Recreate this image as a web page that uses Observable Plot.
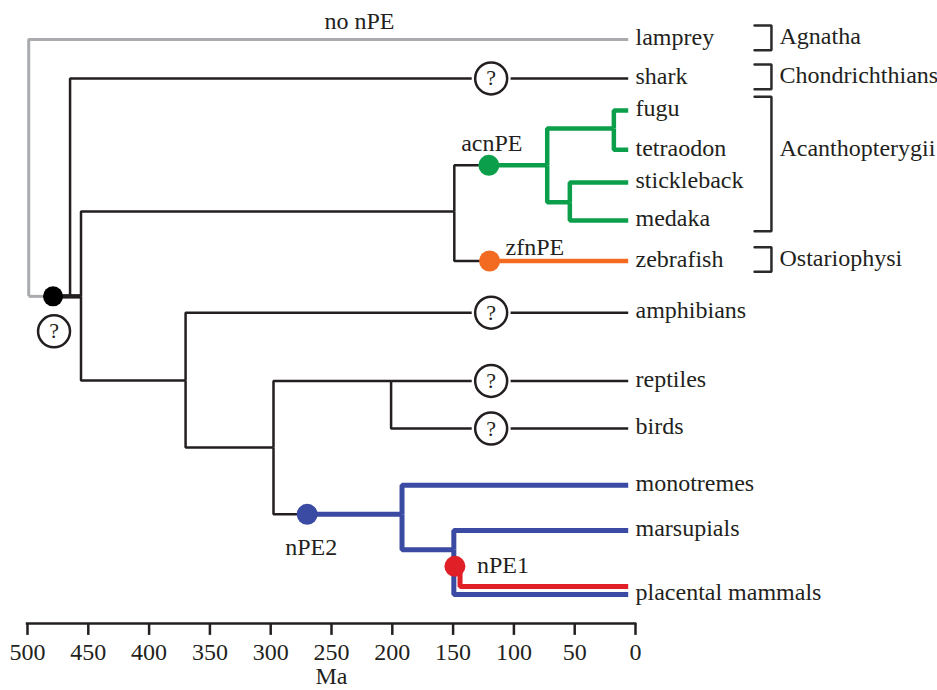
<!DOCTYPE html>
<html>
<head>
<meta charset="utf-8">
<script src="https://cdn.jsdelivr.net/npm/d3@7"></script>
<script src="https://cdn.jsdelivr.net/npm/@observablehq/plot@0.6"></script>
<style>
  html, body { margin: 0; padding: 0; background: #fff; }
  svg text { font-family: "Liberation Serif", "Times New Roman", serif; }
</style>
</head>
<body>
<div id="chart"></div>
<script>
// ---------- DATA ----------
// Tree nodes (parents listed before children). Age in Ma; row = vertical slot (0 = top).
const nodeName = ["root", "gnathostomes", "osteichthyes", "teleosts", "acanthopterygii", "fugu+tetraodon",
  "stickleback+medaka", "tetrapods", "amniotes", "sauropsids", "mammals", "theria",
  "lamprey", "shark", "fugu", "tetraodon", "stickleback", "medaka", "zebrafish",
  "amphibians", "reptiles", "birds", "monotremes", "marsupials", "placental mammals"];
const nodeParent = [null, "root", "gnathostomes", "osteichthyes", "teleosts", "acanthopterygii",
  "acanthopterygii", "osteichthyes", "tetrapods", "amniotes", "amniotes", "mammals",
  "root", "gnathostomes", "fugu+tetraodon", "fugu+tetraodon", "stickleback+medaka", "stickleback+medaka", "teleosts",
  "tetrapods", "sauropsids", "sauropsids", "mammals", "theria", "theria"];
const nodeMa = [499, 465, 456, 149, 72.6, 17.8,
  54, 370, 297.7, 201, 192, 149.4,
  6, 6, 6, 6, 6, 6, 6,
  6, 6, 6, 6, 6, 6];
const nodeRow = [6.47, 6.47, 6.47, 4.33, 3.17, 2.24,
  4.1, 8.59, 10.28, 8.6, 11.96, 12.85,
  0, 0.98, 1.79, 2.78, 3.6, 4.56, 5.58,
  6.88, 8.6, 9.8, 11.23, 12.37, 13.98];

// nPE gain events
const eventLabel  = ["", "acnPE", "zfnPE", "nPE2", "nPE1"];
const eventBranch = ["gnathostomes", "acanthopterygii", "zebrafish", "mammals", "placental mammals"];
const eventState  = ["unknown", "acnPE", "zfnPE", "nPE2", "nPE1"];
const eventMa     = [479, 120.6, 120, 270, 148.5];
const eventRow    = [6.47, 3.17, 5.58, 11.96, 13.27];

// branches with unknown status ("?")
const unknownBranch = ["shark", "amphibians", "reptiles", "birds"];
const unknownMa     = [118.7, 118.7, 118.7, 118.7];

// no nPE annotation
const noLabel = "no nPE";
const noLabelBranch = "lamprey";
const noLabelMa = 227;

// clades
const cladeName  = ["Agnatha", "Chondrichthians", "Acanthopterygii", "Ostariophysi"];
const cladeFirst = ["lamprey", "shark", "fugu", "zebrafish"];
const cladeLast  = ["lamprey", "shark", "medaka", "zebrafish"];

// axis
const tickValues = [500, 450, 400, 350, 300, 250, 200, 150, 100, 50, 0];
const axisTitle = "Ma";

// ---------- STYLE / LAYOUT ----------
const ink = "#231f20";
const serif = "Liberation Serif";
const stateColor = {none: "#a9abae", unknown: "#231f20", acnPE: "#0b9f4b", zfnPE: "#f26b21", nPE2: "#3b4aa3", nPE1: "#e11f27"};
const stateWidth = {none: 3, unknown: 2.5, acnPE: 4.5, zfnPE: 4.5, nPE2: 5, nPE1: 5};
const stateRank = {none: 0, unknown: 1, acnPE: 2, zfnPE: 2, nPE2: 2, nPE1: 3};
const thickEdges = new Set(["gnathostomes", "osteichthyes"]);
const FS = 24;
const axisRow = 14.71;
const bracketArmMa = -97.9, bracketBarMa = -111.8, cladeLabelMa = -118.4;

const idx = new Map(nodeName.map((n, i) => [n, i]));
const N = n => { const i = idx.get(n); return {name: n, ma: nodeMa[i], row: nodeRow[i]}; };
const T = (data, opts) => Plot.text(data, {fontFamily: serif, fontSize: FS, fill: ink, ...opts});

// ---------- BUILD BRANCH RUNS ----------
const endState = new Map([["root", "none"]]);
const runs = [];
for (let i = 1; i < nodeName.length; i++) {
  const c = nodeName[i], p = nodeParent[i];
  const P = N(p), C = N(c);
  const s0 = endState.get(p);
  const e = eventBranch.findIndex((b, k) => b === c && eventState[k] !== "nPE1");
  const s1 = e >= 0 ? eventState[e] : s0;
  endState.set(c, s1);
  const w = st => (thickEdges.has(c) && st === "unknown") ? 4.5 : stateWidth[st];
  const pts = [];
  if (P.row !== C.row) pts.push([P.ma, P.row]);
  pts.push([P.ma, C.row]);
  if (e >= 0) {
    pts.push([eventMa[e], C.row]);
    runs.push({state: s0, width: w(s0), pts});
    runs.push({state: s1, width: w(s1), pts: [[eventMa[e], C.row], [C.ma, C.row]]});
  } else {
    pts.push([C.ma, C.row]);
    runs.push({state: s0, width: w(s0), pts});
  }
}
// nPE1: parallel red lineage on placental mammals
{
  const k = eventState.indexOf("nPE1");
  const Th = N("theria"), L = N("placental mammals");
  const xr = Th.ma - 5.1, yr = L.row - 0.2;
  runs.push({state: "nPE1", width: stateWidth.nPE1, pts: [[xr, eventRow[k]], [xr, yr], [L.ma, yr]]});
}
runs.sort((a, b) => stateRank[a.state] - stateRank[b.state]);

const marks = [];
for (const r of runs) {
  marks.push(Plot.line(r.pts, {x: d => d[0], y: d => d[1], stroke: stateColor[r.state], strokeWidth: r.width,
    strokeLinejoin: "miter", strokeLinecap: "butt"}));
}

// ---------- UNKNOWN MARKERS ----------
const qData = unknownBranch.map((b, i) => ({ma: unknownMa[i], row: N(b).row}));
marks.push(Plot.dot(qData, {x: "ma", y: "row", r: 19.5, fill: "white", stroke: "none"}));
marks.push(Plot.dot(qData, {x: "ma", y: "row", r: 16, fill: "white", stroke: ink, strokeWidth: 2.5}));
marks.push(T(qData, {x: "ma", y: "row", text: () => "?", fontSize: 22}));

// ---------- EVENT DOTS ----------
const evData = eventLabel.map((l, i) => ({label: l, state: eventState[i], ma: eventMa[i], row: eventRow[i]}));
const rootEv = evData.filter(d => d.state === "unknown");
const colEv = evData.filter(d => d.state !== "unknown");
marks.push(Plot.dot(rootEv, {x: "ma", y: "row", r: 10, fill: "#000", stroke: "none"}));
for (const d of colEv) {
  marks.push(Plot.dot([d], {x: "ma", y: "row", r: 10.5, fill: stateColor[d.state], stroke: "none"}));
}
// root "?" below the black dot
marks.push(Plot.dot(rootEv, {x: "ma", y: "row", dx: 1, dy: 35, r: 16, fill: "white", stroke: ink, strokeWidth: 2.5}));
marks.push(T(rootEv, {x: "ma", y: "row", dx: 1, dy: 35, text: () => "?", fontSize: 22}));

const labelPlace = {
  acnPE: {textAnchor: "middle", dx: 3, dy: -22},
  zfnPE: {textAnchor: "start", dx: 16, dy: -14},
  nPE2:  {textAnchor: "middle", dx: 4, dy: 33},
  nPE1:  {textAnchor: "start", dx: 22, dy: -1}
};
for (const d of colEv) {
  marks.push(T([d], {x: "ma", y: "row", text: "label", ...labelPlace[d.label]}));
}
marks.push(T([noLabel], {x: () => noLabelMa, y: () => N(noLabelBranch).row, dy: -18,
  text: d => d, textAnchor: "middle"}));

// ---------- LEAF LABELS ----------
const leaves = nodeName.filter(n => !nodeParent.includes(n));
marks.push(T(leaves, {x: () => 0, y: d => N(d).row, dy: -2, text: d => d, textAnchor: "start"}));

// ---------- CLADE BRACKETS ----------
cladeName.forEach((name, i) => {
  const top = N(cladeFirst[i]).row - 0.35, bot = N(cladeLast[i]).row + 0.27;
  marks.push(Plot.line([[bracketArmMa, top], [bracketBarMa, top], [bracketBarMa, bot], [bracketArmMa, bot]],
    {x: d => d[0], y: d => d[1], stroke: "#2b2b2b", strokeWidth: 2.5, strokeLinejoin: "miter"}));
  const mid = (N(cladeFirst[i]).row + N(cladeLast[i]).row) / 2;
  marks.push(T([name], {x: () => cladeLabelMa, y: () => mid, dy: name === "Acanthopterygii" ? -17 : -3,
    text: d => d, textAnchor: "start"}));
});

// ---------- AXIS ----------
marks.push(Plot.ruleY([{y: axisRow, x1: tickValues[0], x2: tickValues[tickValues.length - 1]}],
  {y: "y", x1: "x1", x2: "x2", stroke: ink, strokeWidth: 2.5, strokeLinecap: "square"}));
marks.push(Plot.ruleX(tickValues, {x: d => d, y1: () => axisRow, y2: () => axisRow + 0.3, stroke: ink, strokeWidth: 2.5}));
marks.push(T(tickValues, {x: d => d, y: () => axisRow, dy: 29, text: d => String(d)}));
marks.push(T([axisTitle], {x: () => 250, y: () => axisRow, dy: 53, text: d => d}));

const chart = Plot.plot({
  width: 937,
  height: 690,
  margin: 0,
  x: {domain: [500, 0], range: [27, 635], axis: null},
  y: {domain: [0, 14], range: [39, 594.8], axis: null},
  style: {fontFamily: serif, fontSize: "24px", color: ink, background: "white", overflow: "visible"},
  marks
});
document.getElementById("chart").appendChild(chart);
</script>
</body>
</html>
